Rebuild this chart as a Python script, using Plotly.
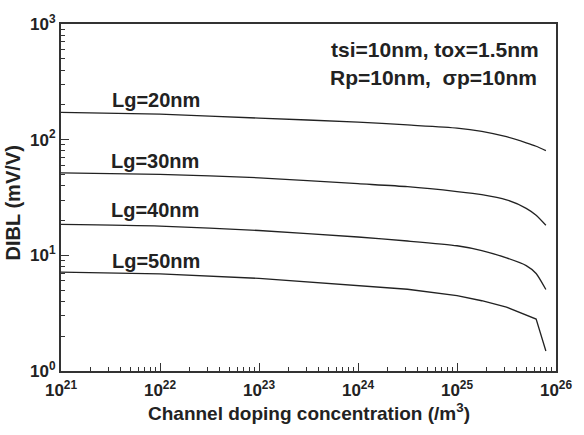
import plotly.graph_objects as go

# Channel doping concentration (/m^3)
doping = [1e21, 1e22, 1e23, 1e24, 3.16e24, 1e25, 1.78e25, 3.16e25, 5.0e25, 6.3e25, 7.9e25]

# DIBL (mV/V) for each gate length
dibl_lg20 = [172, 166, 153.5, 142, 134, 126, 118, 106, 94, 87.7, 80.5]
dibl_lg30 = [51.6, 50.1, 46.8, 41.6, 39.2, 35.6, 33.5, 30.2, 25.5, 22.2, 18.2]
dibl_lg40 = [18.5, 17.9, 16.4, 14.4, 13.3, 12.1, 11.0, 9.5, 8.15, 6.97, 5.06]
dibl_lg50 = [7.15, 6.9, 6.32, 5.46, 5.09, 4.48, 4.05, 3.57, 3.05, 2.81, 1.49]

series_names = ["Lg=20nm", "Lg=30nm", "Lg=40nm", "Lg=50nm"]
series_vals = [dibl_lg20, dibl_lg30, dibl_lg40, dibl_lg50]

# label anchor positions (log10 of data coords)
label_x = [21.96, 21.95, 21.95, 21.96]
label_y = [2.344, 1.815, 1.389, 0.954]

x_decades = [21, 22, 23, 24, 25, 26]
y_decades = [0, 1, 2, 3]

FONT = "Liberation Sans, Arial, sans-serif"
INK = "#222222"

fig = go.Figure()
for i, (name, vals) in enumerate(zip(series_names, series_vals)):
    fig.add_trace(go.Scatter(x=doping, y=vals, mode="lines", name=name,
                             line=dict(color=INK, width=1.3,
                                       shape="spline" if i < 3 else "linear",
                                       smoothing=0.6)))

for name, lx, ly in zip(series_names, label_x, label_y):
    fig.add_annotation(x=lx, y=ly, xref="x", yref="y", text=name, showarrow=False,
                       font=dict(family=FONT, size=20, color=INK, weight="bold"))

W, H = 584, 435
L, R, T, B = 61, 18, 19, 64
pw, ph = W - L - R, H - T - B


def px(xp):
    return (xp - L) / pw


def py(yp):
    return 1 - (yp - T) / ph


fig.add_annotation(x=px(551), y=py(45), xref="paper", yref="paper",
                   text="tsi=10nm, tox=1.5nm", showarrow=False,
                   xanchor="right", yanchor="middle",
                   font=dict(family=FONT, size=21, color=INK, weight="bold"))
fig.add_annotation(x=px(549), y=py(73), xref="paper", yref="paper",
                   text="Rp=10nm,  σp=10nm", showarrow=False,
                   xanchor="right", yanchor="middle",
                   font=dict(family=FONT, size=21, color=INK, weight="bold"))

fig.add_annotation(x=px(314), y=py(413), xref="paper", yref="paper",
                   text="Channel doping concentration (/m<sup>3</sup>)", showarrow=False,
                   xanchor="center", yanchor="middle",
                   font=dict(family=FONT, size=19, color=INK, weight="bold"))
fig.add_annotation(x=px(12), y=py(200), xref="paper", yref="paper",
                   text="DIBL (mV/V)", showarrow=False, textangle=-90,
                   xanchor="center", yanchor="middle",
                   font=dict(family=FONT, size=20, color=INK, weight="bold"))


def minor_vals(decs):
    out = []
    for d in decs[:-1]:
        for m in range(2, 10):
            out.append(m * 10.0 ** d)
    return out


axis_common = dict(
    showgrid=False, zeroline=False, showline=True, linecolor="#333333", linewidth=2,
    mirror=True, ticks="inside", ticklen=8, tickwidth=1, tickcolor="#333333",
    tickfont=dict(family=FONT, size=17, color=INK, weight="bold"),
)

fig.update_xaxes(type="log", range=[21, 26],
                 tickvals=[10.0 ** d for d in x_decades],
                 ticktext=["10<sup>%d</sup>" % d for d in x_decades],
                 ticklabelstandoff=3,
                 minor=dict(ticks="inside", ticklen=4, tickwidth=1, tickcolor="#333333",
                            tickvals=minor_vals(x_decades), showgrid=False),
                 **axis_common)
fig.update_yaxes(type="log", range=[0, 3],
                 tickvals=[10.0 ** d for d in y_decades],
                 ticktext=["10<sup>%d</sup>" % d for d in y_decades],
                 minor=dict(ticks="inside", ticklen=4, tickwidth=1, tickcolor="#333333",
                            tickvals=minor_vals(y_decades), showgrid=False),
                 **axis_common)

fig.update_layout(
    width=W, height=H, margin=dict(l=L, r=R, t=T, b=B),
    paper_bgcolor="white", plot_bgcolor="white", showlegend=False,
)

fig.write_html("out.html")
